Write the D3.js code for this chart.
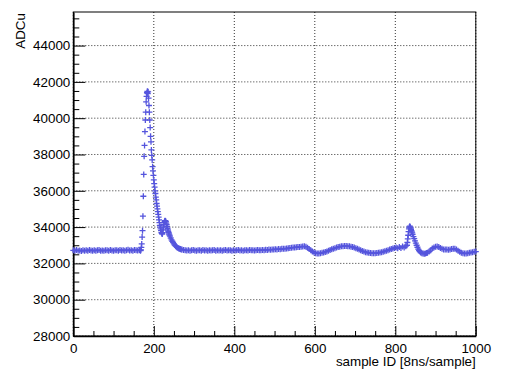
<!DOCTYPE html>
<html>
<head>
<meta charset="utf-8">
<script src="https://cdn.jsdelivr.net/npm/d3@7"></script>
<style>
  body { margin: 0; background: #fff; }
  svg { display: block; }
  text { font-family: "Liberation Sans", Arial, sans-serif; fill: #000; }
  .grid line { stroke: #000; stroke-dasharray: 1,2; stroke-width: 1; opacity: 0.8; }
</style>
</head>
<body>
<div id="chart"></div>
<script>
// ADC waveform, [sample, ADCu] pairs
var baselineA = [
  [0,32720],[4,32690],[8,32740],[12,32700],[16,32710],[20,32680],[24,32730],[28,32700],
  [32,32720],[36,32690],[40,32740],[44,32710],[48,32700],[52,32730],[56,32690],[60,32720],
  [64,32740],[68,32700],[72,32710],[76,32690],[80,32730],[84,32720],[88,32700],[92,32740],
  [96,32710],[100,32690],[104,32720],[108,32730],[112,32700],[116,32740],[120,32710],[124,32730],
  [128,32700],[132,32720],[136,32750],[140,32710],[144,32730],[148,32700],[152,32740],[156,32720],
  [160,32710],[164,32740]
];
var mainPulse = [
  [166,32720],[167,32700],[168,32750],[169,32880],[170,33070],[171,33450],[172,33800],[173,34600],
  [174,35700],[175,36900],[176,37900],[177,38500],[178,39260],[179,39900],[180,40330],[181,40900],
  [182,41200],[183,41400],[184,41480],[185,41350],[186,41450],[187,41100],[188,40700],[189,40330],
  [190,39900],[191,39480],[192,39000],[193,38700],[194,38250],[195,37950],[196,37700],[197,37330],
  [198,37100],[199,36850],[200,36600],[201,36400],[202,36200],[203,36000],[204,35850],[205,35650],
  [206,35500],[207,35300],[208,35150],[209,35000],[210,34850],[211,34700],[212,34550],[213,34400],
  [214,34250],[215,34100],[216,34000],[217,33900],[218,33800],[219,33700],[220,33650],[221,33620],
  [222,33700],[223,33850],[224,34000],[225,34150],[226,34250],[227,34320],[228,34350],[229,34340],
  [230,34300],[231,34220],[232,34130],[233,34030],[234,33930],[235,33840],[236,33760],[237,33690],
  [238,33620],[239,33560],[240,33500],[242,33400],[244,33300],[246,33220],[248,33150],[250,33080],
  [252,33010],[254,32960],[256,32920],[258,32880],[260,32850],[262,32820],[264,32800],[266,32790],
  [268,32770],[270,32760]
];
var baselineB = [
  [274,32740],[278,32720],[282,32710],[286,32730],[290,32700],[294,32720],[298,32740],[302,32710],
  [306,32700],[310,32730],[314,32720],[318,32700],[322,32740],[326,32710],[330,32720],[334,32700],
  [338,32730],[342,32710],[346,32720],[350,32740],[354,32700],[358,32720],[362,32710],[366,32730],
  [370,32700],[374,32720],[378,32740],[382,32710],[386,32730],[390,32720],[394,32700],[398,32730],
  [402,32710],[406,32720],[410,32740],[414,32710],[418,32720],[422,32700],[426,32730],[430,32720],
  [434,32710],[438,32740],[442,32720],[446,32730],[450,32710],[454,32720],[458,32740],[462,32730],
  [466,32720],[470,32740],[474,32730],[478,32750],[482,32740],[486,32760],[490,32750],[494,32770],
  [498,32760],[502,32780],[506,32770],[510,32790],[514,32780],[518,32800],[522,32810],[526,32800],
  [530,32820],[534,32830],[538,32850],[542,32860],[546,32870],[550,32880],[554,32890],[558,32900],
  [562,32910],[566,32920],[570,32930],[574,32940],[578,32920],[582,32860],[586,32790],[590,32720],
  [594,32660],[598,32600],[602,32560],[606,32540],[610,32550],[614,32560],[618,32580],[622,32600],
  [626,32630],[630,32660],[634,32700],[638,32740],[642,32780],[646,32810],[650,32840],[654,32870],
  [658,32900],[662,32920],[666,32940],[670,32950],[674,32960],[678,32960],[682,32950],[686,32940],
  [690,32920],[694,32900],[698,32870],[702,32840],[706,32800],[710,32760],[714,32720],[718,32680],
  [722,32650],[726,32620],[730,32600],[734,32580],[738,32570],[742,32560],[746,32560],[750,32560],
  [754,32570],[758,32580],[762,32600],[766,32620],[770,32640],[774,32670],[778,32700],[782,32730],
  [786,32760],[790,32790],[794,32820],[798,32850],[802,32880],[806,32830],[810,32900],[814,32850],
  [818,32930],[822,32870],[826,32950]
];
var echoPulse = [
  [829,33000],[830,33150],[831,33350],[832,33550],[833,33750],[834,33900],[835,34000],[836,34050],
  [837,34000],[838,33950],[839,33880],[840,33800],[841,33740],[842,33680],[843,33600],[845,33480],
  [847,33360],[849,33240],[851,33120],[853,33000],[855,32890],[857,32790],[859,32710],[861,32650],
  [863,32600],[866,32560],[869,32540],[872,32530],[875,32540],[878,32570]
];
var tailSamples = [
  [880,32580],[884,32650],[888,32730],[892,32820],[896,32880],[900,32920],[904,32930],[908,32900],
  [912,32850],[916,32800],[920,32770],[924,32760],[928,32770],[932,32750],[936,32760],[940,32790],
  [944,32810],[948,32800],[952,32760],[956,32700],[960,32640],[964,32590],[968,32560],[972,32540],
  [976,32540],[980,32560],[984,32580],[988,32600],[992,32620],[996,32640],[1000,32650]
];

var xMajor = [0, 200, 400, 600, 800, 1000];
var yMajor = [28000, 30000, 32000, 34000, 36000, 38000, 40000, 42000, 44000];

var W = 508, H = 381;
var plotL = 73.3, plotR = 475.8, plotT = 12, plotB = 336;

var x = d3.scaleLinear().domain([0, 1000]).range([plotL, plotR]);
var y = d3.scaleLinear().domain([28000, 45850]).range([plotB, plotT]);

var svg = d3.select("#chart").append("svg")
  .attr("width", W)
  .attr("height", H);

// grid
var grid = svg.append("g").attr("class", "grid");
grid.selectAll(".gx").data(xMajor).enter().append("line")
  .attr("x1", function(d) { return x(d); }).attr("x2", function(d) { return x(d); })
  .attr("y1", plotT).attr("y2", plotB);
grid.selectAll(".gy").data(yMajor).enter().append("line")
  .attr("y1", function(d) { return y(d); }).attr("y2", function(d) { return y(d); })
  .attr("x1", plotL).attr("x2", plotR);

// frame
svg.append("rect")
  .attr("x", plotL).attr("y", plotT)
  .attr("width", plotR - plotL).attr("height", plotB - plotT)
  .attr("fill", "none").attr("stroke", "#000").attr("stroke-width", 1);

// minor ticks
var xMinor = d3.range(0, 1001, 50).filter(function(d) { return xMajor.indexOf(d) < 0; });
var yMinor = d3.range(28000, 45851, 500).filter(function(d) { return yMajor.indexOf(d) < 0; });

svg.append("g")
  .attr("transform", "translate(0," + plotB + ")")
  .call(d3.axisBottom(x).tickValues(xMinor).tickSize(-5).tickFormat(""))
  .call(function(g) { g.select(".domain").remove(); });

svg.append("g")
  .attr("transform", "translate(" + plotL + ",0)")
  .call(d3.axisLeft(y).tickValues(yMinor).tickSize(-6).tickFormat(""))
  .call(function(g) { g.select(".domain").remove(); });

// major axes
svg.append("g")
  .attr("transform", "translate(0," + plotB + ")")
  .call(d3.axisBottom(x).tickValues(xMajor).tickSize(-10).tickSizeOuter(0).tickPadding(7.4).tickFormat(d3.format("d")));

svg.append("g")
  .attr("transform", "translate(" + plotL + ",0)")
  .call(d3.axisLeft(y).tickValues(yMajor).tickSize(-12).tickSizeOuter(0).tickPadding(3).tickFormat(d3.format("d")));

svg.selectAll(".domain").attr("stroke", "#000").attr("stroke-width", 1.6);
svg.selectAll(".tick line").attr("stroke", "#000");
svg.selectAll(".tick text")
  .style("font-family", "'Liberation Sans', Arial, sans-serif")
  .style("font-size", "13.4px")
  .attr("fill", "#000");

// axis titles
svg.append("text")
  .attr("x", plotR)
  .attr("y", 366)
  .attr("text-anchor", "end")
  .style("font-size", "13.4px")
  .text("sample ID [8ns/sample]");

svg.append("text")
  .attr("transform", "translate(25," + 13 + ") rotate(-90)")
  .attr("text-anchor", "end")
  .style("font-size", "13.4px")
  .text("ADCu");

// markers
var points = baselineA.concat(mainPulse, baselineB, echoPulse, tailSamples);
var ms = 3;

svg.append("g")
  .attr("stroke", "#5555dd")
  .attr("stroke-width", 1.3)
  .selectAll("path")
  .data(points)
  .enter()
  .append("path")
  .attr("d", function(d) {
    var cx = x(d[0]), cy = y(d[1]);
    return "M" + (cx - ms) + "," + cy + "H" + (cx + ms)
      + "M" + cx + "," + (cy - ms) + "V" + (cy + ms);
  });
</script>
</body>
</html>
